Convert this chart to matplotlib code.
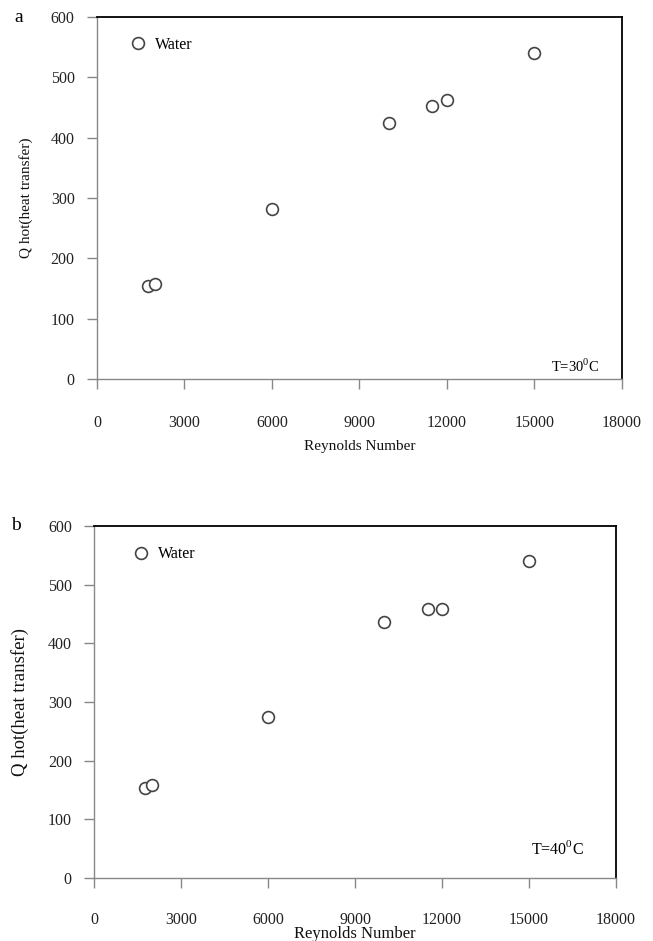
import numpy as np
import matplotlib
matplotlib.use("Agg")
import matplotlib.pyplot as plt

plt.rcParams['font.family'] = ['Liberation Serif', 'DejaVu Serif']
plt.rcParams['mathtext.fontset'] = 'custom'
plt.rcParams['mathtext.rm'] = 'Liberation Serif'

# Reynolds number vs heat transfer of hot side, water
re_30 = [1750, 2000, 6000, 10000, 11500, 12000, 15000]
q_30 = [155, 157, 281, 425, 452, 462, 541]

re_40 = [1750, 2000, 6000, 10000, 11500, 12000, 15000]
q_40 = [154, 158, 275, 436, 458, 458, 540]

x_ticks = [0, 3000, 6000, 9000, 12000, 15000, 18000]
y_ticks = [0, 100, 200, 300, 400, 500, 600]

fig = plt.figure(figsize=(6.53, 9.41), dpi=100)
ax_a = fig.add_axes([0.1485, 0.5972, 0.804, 0.3847])
ax_b = fig.add_axes([0.1440, 0.0670, 0.7994, 0.3741])

# axes, x, y, tag, temperature note and its position, label styling, legend anchor
panels = [
    dict(ax=ax_a, re=re_30, q=q_30, tag='a', temp='T=30$^0$C',
         temp_xy=(0.958, 0.036), temp_fs=10.5, xpad=19,
         xlab_y=-0.168, xlab_fs=11, ylab_x=-0.122, ylab_fs=11,
         leg_xy=(0.036, 0.985)),
    dict(ax=ax_b, re=re_40, q=q_40, tag='b', temp='T=40$^0$C',
         temp_xy=(0.939, 0.082), temp_fs=11.5, xpad=17.5,
         xlab_y=-0.137, xlab_fs=12, ylab_x=-0.124, ylab_fs=13.5,
         leg_xy=(0.048, 0.9825)),
]

for p in panels:
    ax = p['ax']
    ax.plot(p['re'], p['q'], 'o', ls='none', ms=8.5, mfc='white',
            mec='#444444', mew=1.2, label='Water')
    ax.set_xlim(0, 18000)
    ax.set_ylim(0, 600)
    ax.set_xticks(x_ticks)
    ax.set_yticks(y_ticks)
    ax.tick_params(axis='both', direction='out', color='#888888', length=7,
                   width=1, labelsize=11.5, labelcolor='#222222')
    ax.tick_params(axis='x', pad=p['xpad'])
    ax.tick_params(axis='y', pad=9)

    for side in ['left', 'bottom']:
        ax.spines[side].set_color('#888888')
        ax.spines[side].set_linewidth(1.0)
    for side in ['top', 'right']:
        ax.spines[side].set_color('black')
        ax.spines[side].set_linewidth(1.3)

    ax.set_xlabel('Reynolds Number', fontsize=p['xlab_fs'], color='#111111')
    ax.xaxis.set_label_coords(0.5, p['xlab_y'])
    ax.set_ylabel('Q hot(heat transfer)', fontsize=p['ylab_fs'],
                  color='#111111')
    ax.yaxis.set_label_coords(p['ylab_x'], 0.5)

    ax.text(*p['temp_xy'], p['temp'], transform=ax.transAxes, ha='right',
            va='center', fontsize=p['temp_fs'])
    ax.text(-0.158, 1.0, p['tag'], transform=ax.transAxes, ha='left',
            va='center', fontsize=14)

    ax.legend(loc='upper left', bbox_to_anchor=p['leg_xy'], frameon=False,
              handlelength=1.0, handletextpad=0.55, fontsize=11.5)

fig.savefig('out.png', dpi=100)
